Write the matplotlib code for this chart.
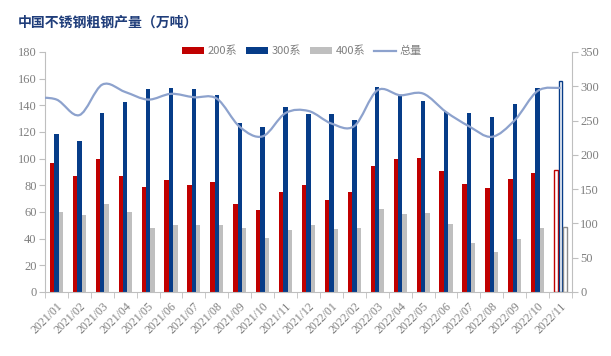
import numpy as np
import matplotlib
matplotlib.use("Agg")
import matplotlib.pyplot as plt
from matplotlib.path import Path
from matplotlib.patches import PathPatch, Patch
from matplotlib.lines import Line2D

plt.rcParams['font.family'] = ['Noto Sans CJK SC', 'DejaVu Sans']

categories = ["2021/01", "2021/02", "2021/03", "2021/04", "2021/05", "2021/06",
              "2021/07", "2021/08", "2021/09", "2021/10", "2021/11", "2021/12",
              "2022/01", "2022/02", "2022/03", "2022/04", "2022/05", "2022/06",
              "2022/07", "2022/08", "2022/09", "2022/10", "2022/11"]
s200 = [97.1, 86.9, 99.6, 86.9, 78.6, 83.9, 80.1, 82.4, 65.9, 61.4, 74.9, 80.1,
        68.9, 74.9, 94.4, 99.6, 100.3, 90.6, 80.9, 77.9, 84.6, 89.1, 91.4]
s300 = [118.8, 113.1, 134.0, 142.3, 152.0, 153.3, 152.0, 147.5, 126.6, 123.6, 138.5, 133.3,
        133.3, 128.8, 153.5, 147.5, 143.0, 134.8, 134.0, 131.0, 140.8, 152.8, 158.0]
s400 = [59.9, 57.7, 65.9, 59.9, 47.9, 50.2, 50.2, 50.2, 47.9, 40.4, 46.4, 50.2,
        47.2, 47.9, 62.2, 58.4, 59.2, 50.9, 36.7, 30.0, 39.7, 47.7, 48.4]
total = [280.7, 258.0, 302.5, 291.7, 280.6, 289.0, 284.0, 282.0, 240.8, 227.0, 261.0, 264.0,
         245.7, 242.0, 294.0, 287.0, 289.4, 262.6, 241.8, 226.3, 250.5, 293.2, 297.6]
# total for the month before 2021/01 (only its clipped lead-in is visible at the left edge)
total_prev = 283.0
left_ticks = list(range(0, 181, 20))
right_ticks = list(range(0, 351, 50))

RED = '#C00000'
BLUE = '#063C88'
GRAY = '#BFBFBF'
LINEC = '#8DA2CD'
TXT = '#7F7F7F'
AX = '#BFBFBF'

fig = plt.figure(figsize=(6.11, 3.56), dpi=100)
ax = fig.add_axes([45/611, 1-292/356, (572-45)/611, (292-52)/356])
ax2 = ax.twinx()

n = len(categories)
x = np.arange(n)
w = 0.19
last = n - 1
for vals, off, col in [(s200, -w, RED), (s300, 0, BLUE), (s400, w, GRAY)]:
    vals = np.array(vals)
    ax.bar(x[:last] + off, vals[:last], width=w, color=col, linewidth=0, zorder=2)
    ec = col if col != GRAY else '#8C8C8C'
    ax.bar(x[last] + off, vals[last], width=w*0.85, facecolor='white', edgecolor=ec,
           linewidth=1.0, zorder=2)

# smoothed total line (Catmull-Rom style bezier, like Excel smoothing)
lx = np.concatenate([[-1], x])
ly = np.concatenate([[total_prev], np.array(total)])
pts = np.column_stack([lx, ly])
m = len(pts)
verts = [tuple(pts[0])]
codes = [Path.MOVETO]
for i in range(m - 1):
    p0 = pts[i - 1] if i > 0 else pts[i]
    p1 = pts[i]
    p2 = pts[i + 1]
    p3 = pts[i + 2] if i + 2 < m else pts[i + 1]
    c1 = p1 + (p2 - p0) / 6.0
    c2 = p2 - (p3 - p1) / 6.0
    verts += [tuple(c1), tuple(c2), tuple(p2)]
    codes += [Path.CURVE4] * 3
pp = PathPatch(Path(verts, codes), facecolor='none', edgecolor=LINEC,
               linewidth=1.6, zorder=3)
ax2.add_patch(pp)
pp.set_clip_box(ax2.bbox)

ax.set_xlim(-0.5, n - 0.5)
ax.set_ylim(0, 180)
ax2.set_ylim(0, 350)
ax.set_yticks(left_ticks)
ax2.set_yticks(right_ticks)
ax.set_xticks(x)
ax.set_xticklabels(categories, rotation=45, ha='right', rotation_mode='anchor',
                   fontsize=8.5, color=TXT, family=['Liberation Serif', 'DejaVu Sans'])
ax.set_xticks(np.arange(-0.5, n, 1), minor=True)
ax.tick_params(axis='x', which='major', length=0, pad=6)
ax.tick_params(axis='x', which='minor', length=4, color=AX, direction='out')
ax.tick_params(axis='y', length=4, color=AX, labelsize=9, labelcolor=TXT, pad=2)
ax2.tick_params(axis='y', length=4, color=AX, labelsize=9, labelcolor=TXT, pad=2)
for lab in ax.get_yticklabels() + ax2.get_yticklabels():
    lab.set_family(['Liberation Serif', 'DejaVu Sans'])

for a in (ax, ax2):
    a.spines['top'].set_visible(False)
    for s in ('left', 'right', 'bottom'):
        a.spines[s].set_color(AX)
        a.spines[s].set_linewidth(0.8)
ax2.spines['left'].set_visible(False)
ax2.spines['bottom'].set_visible(False)
ax.spines['right'].set_visible(False)

fig.text(18/611, 1-23/356, '中国不锈钢粗钢产量（万吨）', fontsize=10, fontweight='bold',
         color='#1F3D7A', va='center', ha='left')

handles = [Patch(facecolor=RED, edgecolor='none'), Patch(facecolor=BLUE, edgecolor='none'),
           Patch(facecolor=GRAY, edgecolor='none'), Line2D([], [], color=LINEC, lw=1.6)]
leg = fig.legend(handles, ['200系', '300系', '400系', '总量'], loc='center',
                 bbox_to_anchor=(302/611, 1-51/356), ncol=4, frameon=False,
                 fontsize=8, handlelength=2.0, handleheight=0.6, handletextpad=0.3,
                 columnspacing=0.8, labelcolor=TXT)

fig.savefig('out.png', dpi=100, facecolor='white')
